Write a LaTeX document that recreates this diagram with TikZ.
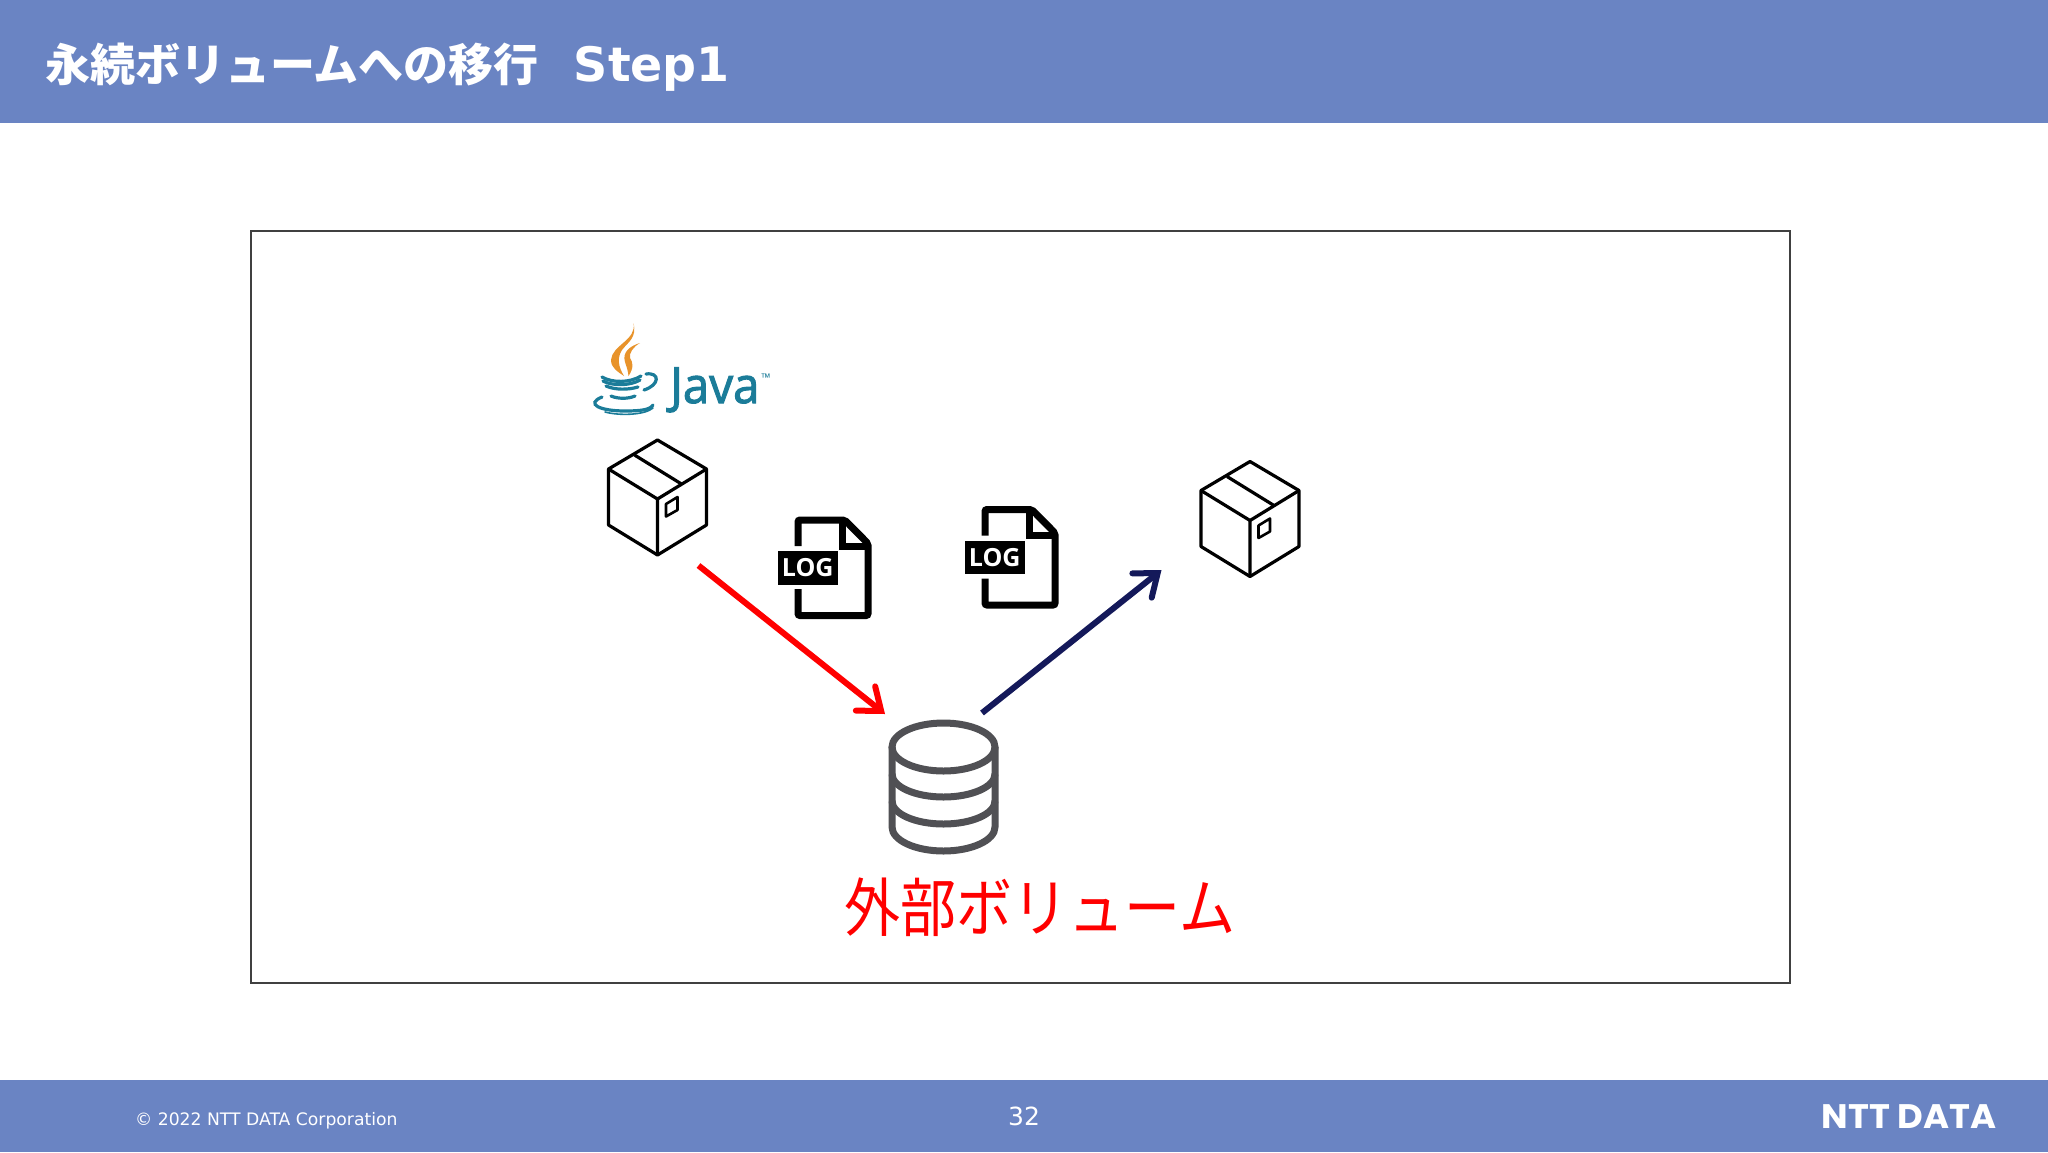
\documentclass[tikz,border=0pt]{standalone}
\usepackage{fontspec}
\setmainfont{DejaVu Sans}
\newfontfamily\jpfont{Noto Sans CJK JP}
\newfontfamily\javafont[FakeBold=2]{Open Sans}
\newfontfamily\tagfont{Open Sans}
\newfontfamily\logofont{Poppins}
\usetikzlibrary{arrows.meta}
\definecolor{barblue}{HTML}{6A84C3}
\definecolor{framegray}{HTML}{404040}
\definecolor{volgray}{HTML}{505054}
\definecolor{arrowred}{HTML}{FF0000}
\definecolor{arrownavy}{HTML}{14195A}
\definecolor{javateal}{HTML}{1B7C99}
\definecolor{javaorange}{HTML}{E8932B}
\tikzset{
  bar/.style={fill=barblue,draw=none},
  iconarea/.style={inner sep=0pt,outer sep=0pt,draw=none},
  flowline/.style={line width=6pt,-{Straight Barb[length=20pt,width=31pt,line cap=round]}},
  cupline/.style={draw=javateal,line width=3.2pt,line cap=round},
  flame/.style={fill=javaorange,draw=none},
  pics/cubeicon/.style={code={
    \draw[line width=3.2pt,line join=round] (0,-57.5) -- (49,-28.5) -- (49,27.5) -- (0,57.5) -- (-49,27.5) -- (-49,-28.5) -- cycle;
    \draw[line width=3.2pt,line join=round] (-49,-28.5) -- (0,1.5) -- (49,-28.5) (0,1.5) -- (0,57.5);
    \draw[line width=3.2pt] (-23,-42.5) -- (24,-13.5);
    \draw[line width=2.6pt,line join=round] (8.5,6.5) -- (20,-0.5) -- (20,12.5) -- (8.5,19) -- cycle;
  }},
  pics/logicon/.style={code={
    \draw[line width=7pt,rounded corners=2pt] (-26.75,-21.5) -- (-26.75,-47.5) -- (20,-47.5) -- (43.25,-24) -- (43.25,48) -- (-26.75,48) -- (-26.75,21.5);
    \draw[line width=7pt] (18,-47.5) -- (18,-21.5) -- (43.25,-21.5);
    \node[fill=black,text=white,minimum width=59.5pt,minimum height=33.5pt,inner sep=0pt,font=\tagfont\bfseries\fontsize{25}{25}\selectfont] (-tag) at (-17,0.25) {LOG};
  }},
  pics/volicon/.style={code={
    \draw[volgray,line width=7pt] (0,-44) ellipse [x radius=51.5pt,y radius=24pt];
    \draw[volgray,line width=7pt] (-51.5,-44) -- (-51.5,36) arc [start angle=180,end angle=360,x radius=51.5pt,y radius=24pt] -- (51.5,-44);
    \foreach \yy in {-17,10} {
      \draw[volgray,line width=7pt] (-51.5,\yy) arc [start angle=180,end angle=360,x radius=51.5pt,y radius=23pt];
    }
  }},
}
\begin{document}
\begin{tikzpicture}[x=1pt,y=-1pt]
\useasboundingbox (0,0) rectangle (2048,1152);
\fill[white] (0,0) rectangle (2048,1152);
\fill[bar] (0,0) rectangle (2048,123);
\fill[bar] (0,1080) rectangle (2048,1152);
\draw[framegray,line width=2pt] (251,231) rectangle (1790,983);
\node[anchor=mid west,inner sep=0pt,text=white,font=\bfseries\fontsize{45}{54}\selectfont] (title) at (45,79) {{\jpfont\bfseries 永続ボリュームへの移行}\hspace{35pt}{\fontsize{47.5}{54}\selectfont Step1}};
\node[anchor=mid west,inner sep=0pt,text=white,font=\fontsize{17.2}{22}\selectfont] (copyright) at (135,1123) {© 2022 NTT DATA Corporation};
\node[inner sep=0pt,text=white,font=\fontsize{25}{30}\selectfont] (pageno) at (1024,1116) {32};
\node[inner sep=0pt,text=white,xscale=1.04,font=\logofont\bfseries\fontsize{34}{34}\selectfont] (logo) at (1909,1117) {NTT DATA};
% java mark
\fill[flame] (633.5,323) .. controls (637,340) and (612,345) .. (611,360) .. controls (611,368) and (618,372) .. (624,376) .. controls (618,366) and (617,358) .. (622,350) .. controls (628,342) and (637,338) .. (633.5,323);
\fill[flame] (640,343) .. controls (630,346) and (622,352) .. (625,362) .. controls (627,368) and (628,371) .. (628.5,376) .. controls (634,368) and (633,362) .. (630,358) .. controls (629,353) and (633,347) .. (640,343);
\draw[cupline] (602,377) .. controls (612,383) and (630,383) .. (641,376);
\draw[cupline] (646,374) .. controls (660,372) and (660,385) .. (644,390);
\draw[cupline] (603,381) .. controls (612,386) and (630,386) .. (640,380);
\draw[cupline] (606,386) .. controls (615,390) and (628,390) .. (638,387);
\draw[cupline] (611,396) .. controls (618,399) and (628,399) .. (635,396);
\draw[cupline] (602,397) .. controls (585,404) and (600,411) .. (625,411) .. controls (640,411) and (650,410) .. (653,405);
\draw[cupline,line width=1.6pt] (605,412) .. controls (620,416) and (645,415) .. (653,408);
\node[anchor=base west,inner sep=0pt,text=javateal,xscale=0.95,font=\javafont\fontsize{50}{50}\selectfont] (javaname) at (670,403) {Java};
\node[inner sep=0pt,text=javateal,font=\tagfont\fontsize{12}{12}\selectfont] (javatm) at (766,378) {™};
% icons
\node[iconarea,minimum width=98pt,minimum height=115pt] (boxa) at (657.5,497.5) {};
\pic at (boxa) {cubeicon};
\node[iconarea,minimum width=98pt,minimum height=115pt] (boxb) at (1250,519) {};
\pic at (boxb) {cubeicon};
\node[iconarea,minimum width=93pt,minimum height=103pt] (loga) at (824.75,567.5) {};
\pic (loga) at (loga) {logicon};
\node[iconarea,minimum width=93pt,minimum height=103pt] (logb) at (1011.75,557) {};
\pic (logb) at (logb) {logicon};
\node[iconarea,minimum width=110pt,minimum height=134pt] (volume) at (943.5,791) {};
\pic at (volume) {volicon};
\node[inner sep=0pt,text=arrowred,yscale=1.14,font=\jpfont\fontsize{56}{60}\selectfont] (volname) at (1040,907) {外部ボリューム};
% flows
\draw[flowline,arrowred] ([shift={(-8,10.5)}]boxa.south east) -- ([shift={(-3.5,-10)}]volume.north west);
\draw[flowline,arrownavy] ([shift={(-16.5,-11)}]volume.north east) -- ([shift={(-39.5,-6.5)}]boxb.south west);
\end{tikzpicture}
\end{document}
